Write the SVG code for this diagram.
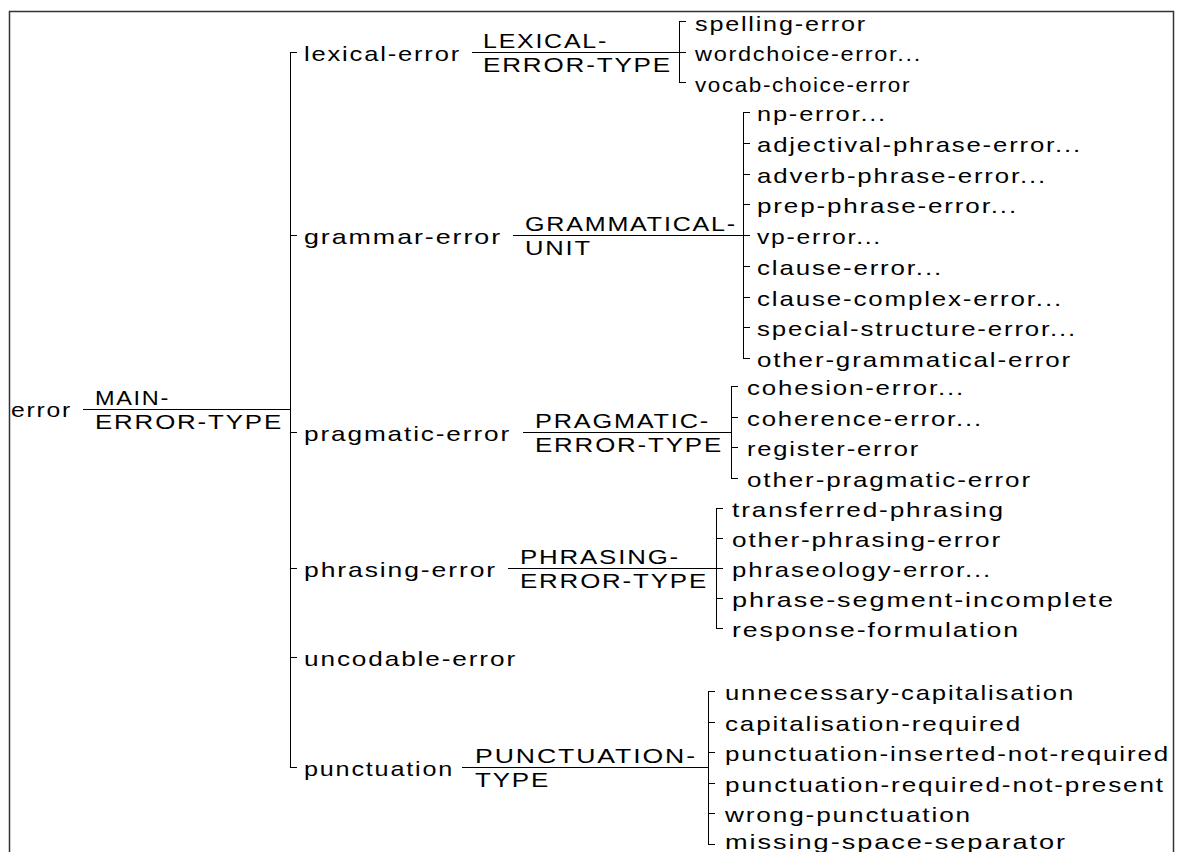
<svg xmlns="http://www.w3.org/2000/svg" width="1177" height="852" viewBox="0 0 1177 852">
<style>
.t{font-family:"Liberation Sans",Arial,sans-serif;font-size:21px;letter-spacing:1.5px;fill:#000}
.c{fill:none;stroke:#000;stroke-width:1;shape-rendering:crispEdges}
.f{fill:none;stroke:#333;stroke-width:1.5}
</style>
<rect width="1177" height="852" fill="#fff"/>
<path class="f" d="M9.5 852V11.5H1173.5V852"/>
<g id="connectors">
<path class="c" d="M83 409.5H290"/>
<path class="c" d="M297 52H290V767H297M290 235H297M290 432H297M290 568H297M290 657H297"/>
<path class="c" d="M472 52H686M686 21.5H679V82.5H686"/>
<path class="c" d="M513 235H750M750 112H743V358H750M743 143H750M743 174H750M743 204H750M743 266H750M743 297H750M743 327H750"/>
<path class="c" d="M523 432H731M738 386H731V478H738M731 417H738M731 447H738"/>
<path class="c" d="M508 568H723M723 508H716V628H723M716 538H723M716 598H723"/>
<path class="c" d="M462 767H708M715 691H708V844H715M708 722H715M708 752H715M708 783H715M708 813H715"/>
</g>
<g id="n-error"><text class="t" x="11" y="417" textLength="61" lengthAdjust="spacingAndGlyphs">error</text></g>
<g id="l-main"><text class="t" x="95" y="405" textLength="75" lengthAdjust="spacingAndGlyphs">MAIN-</text><text class="t" x="95" y="429" textLength="188" lengthAdjust="spacingAndGlyphs">ERROR-TYPE</text></g>
<g id="n-lexical"><text class="t" x="304" y="61" textLength="157" lengthAdjust="spacingAndGlyphs">lexical-error</text></g>
<g id="l-lexical"><text class="t" x="483" y="48" textLength="125" lengthAdjust="spacingAndGlyphs">LEXICAL-</text><text class="t" x="483" y="72" textLength="189" lengthAdjust="spacingAndGlyphs">ERROR-TYPE</text></g>
<g id="n-spelling"><text class="t" x="695" y="30.5" textLength="172" lengthAdjust="spacingAndGlyphs">spelling-error</text></g>
<g id="n-wordchoice"><text class="t" x="695" y="61" textLength="227" lengthAdjust="spacingAndGlyphs">wordchoice-error...</text></g>
<g id="n-vocab"><text class="t" x="695" y="91.5" textLength="216" lengthAdjust="spacingAndGlyphs">vocab-choice-error</text></g>
<g id="n-grammar"><text class="t" x="304" y="244" textLength="198" lengthAdjust="spacingAndGlyphs">grammar-error</text></g>
<g id="l-grammar"><text class="t" x="525" y="231" textLength="212" lengthAdjust="spacingAndGlyphs">GRAMMATICAL-</text><text class="t" x="525" y="255" textLength="67" lengthAdjust="spacingAndGlyphs">UNIT</text></g>
<g id="n-np"><text class="t" x="757" y="121" textLength="130" lengthAdjust="spacingAndGlyphs">np-error...</text></g>
<g id="n-adj"><text class="t" x="757" y="152" textLength="325" lengthAdjust="spacingAndGlyphs">adjectival-phrase-error...</text></g>
<g id="n-adv"><text class="t" x="757" y="183" textLength="290" lengthAdjust="spacingAndGlyphs">adverb-phrase-error...</text></g>
<g id="n-prep"><text class="t" x="757" y="213" textLength="261" lengthAdjust="spacingAndGlyphs">prep-phrase-error...</text></g>
<g id="n-vp"><text class="t" x="757" y="244" textLength="125" lengthAdjust="spacingAndGlyphs">vp-error...</text></g>
<g id="n-clause"><text class="t" x="757" y="275" textLength="186" lengthAdjust="spacingAndGlyphs">clause-error...</text></g>
<g id="n-clausecx"><text class="t" x="757" y="306" textLength="306" lengthAdjust="spacingAndGlyphs">clause-complex-error...</text></g>
<g id="n-special"><text class="t" x="757" y="336" textLength="320" lengthAdjust="spacingAndGlyphs">special-structure-error...</text></g>
<g id="n-othergram"><text class="t" x="757" y="367" textLength="315" lengthAdjust="spacingAndGlyphs">other-grammatical-error</text></g>
<g id="n-pragmatic"><text class="t" x="304" y="441" textLength="207" lengthAdjust="spacingAndGlyphs">pragmatic-error</text></g>
<g id="l-pragmatic"><text class="t" x="535" y="428" textLength="175" lengthAdjust="spacingAndGlyphs">PRAGMATIC-</text><text class="t" x="535" y="452" textLength="188" lengthAdjust="spacingAndGlyphs">ERROR-TYPE</text></g>
<g id="n-cohesion"><text class="t" x="747" y="395" textLength="218" lengthAdjust="spacingAndGlyphs">cohesion-error...</text></g>
<g id="n-coherence"><text class="t" x="747" y="426" textLength="236" lengthAdjust="spacingAndGlyphs">coherence-error...</text></g>
<g id="n-register"><text class="t" x="747" y="456" textLength="173" lengthAdjust="spacingAndGlyphs">register-error</text></g>
<g id="n-otherprag"><text class="t" x="747" y="487" textLength="285" lengthAdjust="spacingAndGlyphs">other-pragmatic-error</text></g>
<g id="n-phrasing"><text class="t" x="304" y="577" textLength="193" lengthAdjust="spacingAndGlyphs">phrasing-error</text></g>
<g id="l-phrasing"><text class="t" x="520" y="564" textLength="160" lengthAdjust="spacingAndGlyphs">PHRASING-</text><text class="t" x="520" y="588" textLength="188" lengthAdjust="spacingAndGlyphs">ERROR-TYPE</text></g>
<g id="n-transferred"><text class="t" x="732" y="517" textLength="273" lengthAdjust="spacingAndGlyphs">transferred-phrasing</text></g>
<g id="n-otherphr"><text class="t" x="732" y="547" textLength="270" lengthAdjust="spacingAndGlyphs">other-phrasing-error</text></g>
<g id="n-phraseology"><text class="t" x="732" y="577" textLength="260" lengthAdjust="spacingAndGlyphs">phraseology-error...</text></g>
<g id="n-segment"><text class="t" x="732" y="607" textLength="383" lengthAdjust="spacingAndGlyphs">phrase-segment-incomplete</text></g>
<g id="n-response"><text class="t" x="732" y="637" textLength="288" lengthAdjust="spacingAndGlyphs">response-formulation</text></g>
<g id="n-uncodable"><text class="t" x="304" y="666" textLength="213" lengthAdjust="spacingAndGlyphs">uncodable-error</text></g>
<g id="n-punctuation"><text class="t" x="304" y="776" textLength="150" lengthAdjust="spacingAndGlyphs">punctuation</text></g>
<g id="l-punctuation"><text class="t" x="475" y="763" textLength="222" lengthAdjust="spacingAndGlyphs">PUNCTUATION-</text><text class="t" x="475" y="787" textLength="75" lengthAdjust="spacingAndGlyphs">TYPE</text></g>
<g id="n-unnecessary"><text class="t" x="725" y="700" textLength="350" lengthAdjust="spacingAndGlyphs">unnecessary-capitalisation</text></g>
<g id="n-capreq"><text class="t" x="725" y="731" textLength="297" lengthAdjust="spacingAndGlyphs">capitalisation-required</text></g>
<g id="n-pinserted"><text class="t" x="725" y="761" textLength="445" lengthAdjust="spacingAndGlyphs">punctuation-inserted-not-required</text></g>
<g id="n-prequired"><text class="t" x="725" y="792" textLength="440" lengthAdjust="spacingAndGlyphs">punctuation-required-not-present</text></g>
<g id="n-wrong"><text class="t" x="725" y="822" textLength="247" lengthAdjust="spacingAndGlyphs">wrong-punctuation</text></g>
<g id="n-missing"><text class="t" x="725" y="849" textLength="342" lengthAdjust="spacingAndGlyphs">missing-space-separator</text></g>
</svg>
